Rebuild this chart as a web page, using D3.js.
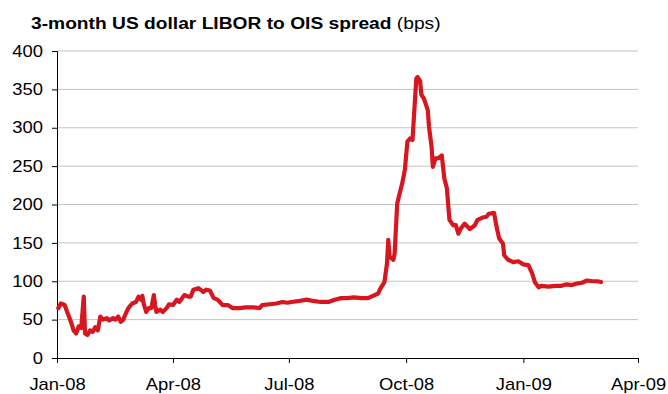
<!DOCTYPE html>
<html>
<head>
	<script src="https://d3js.org/d3.v7.min.js"></script>
	<style>
		body { margin: 0; background: white; }
		text { font-family: Arial, 'Liberation Sans', sans-serif; }
	</style>
</head>
<body>
<svg id="container"></svg>
</body>
<script>
// data
let dates = [
	'2008-01-02','2008-01-04','2008-01-07','2008-01-09','2008-01-12','2008-01-14','2008-01-16','2008-01-18',
	'2008-01-20','2008-01-22','2008-01-23','2008-01-25','2008-01-27','2008-01-29','2008-01-31','2008-02-02',
	'2008-02-04','2008-02-06','2008-02-09','2008-02-11','2008-02-14','2008-02-16','2008-02-18','2008-02-20',
	'2008-02-22','2008-02-24','2008-02-26','2008-02-29','2008-03-03','2008-03-05','2008-03-07','2008-03-08',
	'2008-03-09','2008-03-11','2008-03-13','2008-03-15','2008-03-17','2008-03-18','2008-03-19','2008-03-22',
	'2008-03-24','2008-03-27','2008-03-29','2008-04-01','2008-04-04','2008-04-06','2008-04-10','2008-04-13',
	'2008-04-15','2008-04-17','2008-04-21','2008-04-25','2008-04-27','2008-04-30','2008-05-03','2008-05-06',
	'2008-05-10','2008-05-14','2008-05-18','2008-05-23','2008-05-28','2008-06-03','2008-06-08','2008-06-10',
	'2008-06-16','2008-06-21','2008-06-26','2008-06-30','2008-07-03','2008-07-08','2008-07-15','2008-07-21',
	'2008-07-26','2008-08-01','2008-08-06','2008-08-11','2008-08-16','2008-08-21','2008-08-27','2008-09-01',
	'2008-09-05','2008-09-09','2008-09-11','2008-09-14','2008-09-16','2008-09-17','2008-09-18','2008-09-21',
	'2008-09-22','2008-09-24','2008-09-26','2008-09-28','2008-09-30','2008-10-02','2008-10-04','2008-10-06',
	'2008-10-09','2008-10-10','2008-10-12','2008-10-13','2008-10-15','2008-10-18','2008-10-19','2008-10-21',
	'2008-10-22','2008-10-24','2008-10-26','2008-10-29','2008-10-31','2008-11-02','2008-11-04','2008-11-07',
	'2008-11-09','2008-11-11','2008-11-13','2008-11-16','2008-11-20','2008-11-24','2008-11-26','2008-11-30',
	'2008-12-03','2008-12-05','2008-12-09','2008-12-11','2008-12-13','2008-12-16','2008-12-17','2008-12-20',
	'2008-12-24','2008-12-28','2009-01-01','2009-01-05','2009-01-08','2009-01-10','2009-01-13','2009-01-15',
	'2009-01-21','2009-01-26','2009-01-31','2009-02-04','2009-02-08','2009-02-12','2009-02-16','2009-02-20',
	'2009-02-24','2009-02-28','2009-03-03'
];
let spread = [
	65, 71, 69, 60, 47, 36, 32, 41,
	39, 80, 32, 30, 36, 34, 40, 36,
	54, 50, 52, 49, 52, 50, 54, 47,
	50, 58, 65, 71, 73, 80, 76, 81,
	71, 60, 65, 65, 82, 69, 60, 63,
	60, 65, 70, 69, 76, 73, 82, 80,
	80, 89, 91, 86, 89, 88, 78, 76,
	69, 69, 65, 65, 66, 66, 65, 69,
	70, 71, 73, 72, 73, 74, 76, 74,
	73, 73, 76, 78, 78, 79, 78, 78,
	81, 84, 91, 99, 123, 154, 132, 128,
	136, 201, 215, 228, 245, 282, 286, 284,
	364, 366, 361, 343, 338, 323, 301, 275,
	249, 260, 260, 264, 234, 221, 180, 173,
	173, 162, 169, 175, 168, 173, 180, 183,
	184, 188, 189, 171, 156, 149, 134, 128,
	125, 126, 122, 121, 110, 99, 92, 94,
	93, 94, 94, 96, 95, 97, 98, 101,
	100, 100, 99
];
let yTicks = [0, 50, 100, 150, 200, 250, 300, 350, 400];
let xTicks = ['2008-01-01', '2008-04-01', '2008-07-01', '2008-10-01', '2009-01-01', '2009-04-01'];
</script>

<script>
let parse = d3.timeParse('%Y-%m-%d');
let points = dates.map((d, i) => { return {date: parse(d), value: spread[i]} });

// the source picture's text is a bit wider than plain Arial
let stretch = 1.15;

let svg = d3.select('#container')
	.attr('width', 668)
	.attr('height', 394);

let x = d3.scaleTime()
	.domain([parse(xTicks[0]), parse(xTicks[xTicks.length - 1])])
	.range([57, 638]);

let y = d3.scaleLinear()
	.domain([0, 400])
	.range([358, 51]);

// title
let title = svg.append('text')
	.attr('transform', 'translate(31,29) scale(1.13,1)')
	.style('font-size', '17px');
title.append('tspan').style('font-weight', 'bold').text('3-month US dollar LIBOR to OIS spread');
title.append('tspan').text(' (bps)');

// gridlines
svg.append('g')
	.selectAll('line')
	.data(yTicks.filter((t) => t > 0))
	.join('line')
	.attr('x1', 57)
	.attr('x2', 638)
	.attr('y1', (d) => y(d))
	.attr('y2', (d) => y(d))
	.attr('stroke', '#c6c3bd')
	.attr('stroke-width', 1);

// axes
let yAxis = svg.append('g')
	.attr('transform', 'translate(57,0)')
	.call(d3.axisLeft(y).tickValues(yTicks).tickSize(5).tickPadding(9));

let xAxis = svg.append('g')
	.attr('transform', 'translate(0,358)')
	.call(d3.axisBottom(x)
		.tickValues(xTicks.map(parse))
		.tickFormat(d3.timeFormat('%b-%y'))
		.tickSize(5)
		.tickPadding(16));

svg.selectAll('.domain').attr('stroke', '#000');
svg.selectAll('.tick line').attr('stroke', '#000');
svg.selectAll('.tick text')
	.style('font-family', 'Arial, "Liberation Sans", sans-serif')
	.style('font-size', '16px')
	.attr('fill', '#000');

yAxis.selectAll('.tick text')
	.attr('transform', 'translate(-14,0) scale(' + stretch + ',1) translate(14,0)');
xAxis.selectAll('.tick text')
	.attr('transform', 'scale(' + stretch + ',1)');

// the line
svg.append('path')
	.datum(points)
	.attr('fill', 'none')
	.attr('stroke', '#d7161f')
	.attr('stroke-width', 4.2)
	.attr('stroke-linejoin', 'round')
	.attr('stroke-linecap', 'round')
	.attr('d', d3.line()
		.x((d) => x(d.date))
		.y((d) => y(d.value)));
</script>
</html>
